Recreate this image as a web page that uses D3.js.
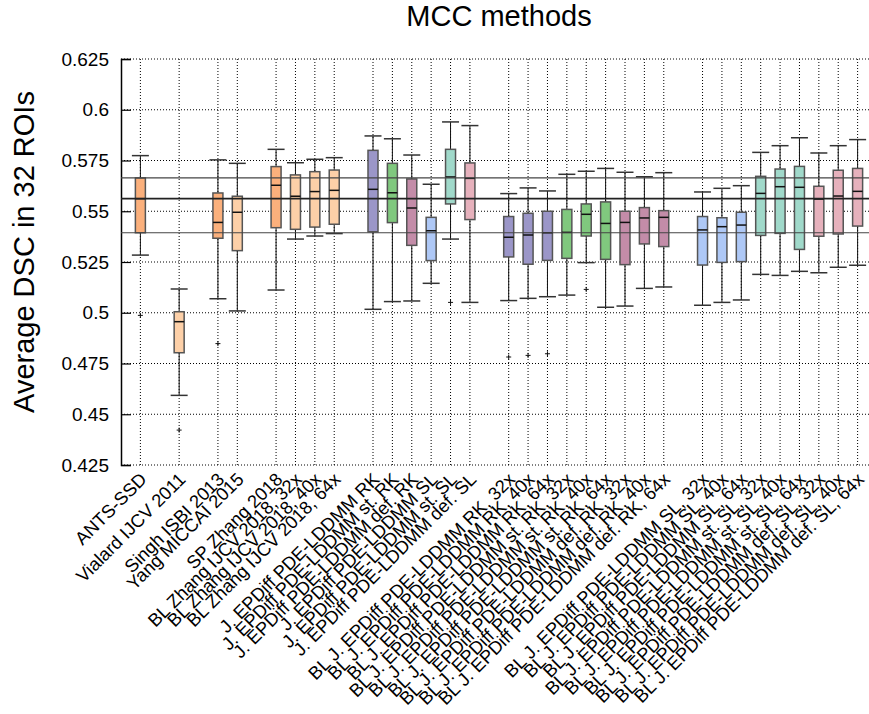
<!doctype html>
<html>
  <head>
    <script src="https://cdnjs.cloudflare.com/ajax/libs/d3/7.8.5/d3.min.js"></script>
    <style>
      body { margin: 0; background: #fff; }
      svg { font-family: "Liberation Sans", Arial, Helvetica, sans-serif; }
      .grid line { stroke: #000; stroke-width: 1; stroke-dasharray: 1 2; }
      .box rect { stroke: #555; stroke-width: 1.5; }
      .whisker { stroke: #111; stroke-width: 1; }
      .cap { stroke: #333; stroke-width: 1.5; }
      .median { stroke: #111; stroke-width: 1.5; }
      .outlier { stroke: #111; stroke-width: 1; }
      .ref { stroke: #444; stroke-width: 1.2; }
      .ref.mid { stroke: #222; stroke-width: 1.6; }
    </style>
  </head>
  <body>
    <svg width="869" height="714"></svg>
    <script>
      // categories ("" = empty slot between groups)
      var labels = [
        "ANTS-SSD", "", "Vialard IJCV 2011", "", "Singh ISBI 2013", "Yang MICCAI 2015", "",
        "SP Zhang 2018", "BL Zhang IJCV 2018, 32x", "BL Zhang IJCV 2018, 40x", "BL Zhang IJCV 2018, 64x", "",
        "J. EPDiff PDE-LDDMM RK", "J. EPDiff PDE-LDDMM st. RK", "J. EPDiff PDE-LDDMM def. RK",
        "J. EPDiff PDE-LDDMM SL", "J. EPDiff PDE-LDDMM st. SL", "J. EPDiff PDE-LDDMM def. SL", "",
        "BL J. EPDiff PDE-LDDMM RK, 32x", "BL J. EPDiff PDE-LDDMM RK, 40x", "BL J. EPDiff PDE-LDDMM RK, 64x",
        "BL J. EPDiff PDE-LDDMM st. RK, 32x", "BL J. EPDiff PDE-LDDMM st. RK, 40x", "BL J. EPDiff PDE-LDDMM st. RK, 64x",
        "BL J. EPDiff PDE-LDDMM def. RK, 32x", "BL J. EPDiff PDE-LDDMM def. RK, 40x", "BL J. EPDiff PDE-LDDMM def. RK, 64x", "",
        "BL J. EPDiff PDE-LDDMM SL, 32x", "BL J. EPDiff PDE-LDDMM SL, 40x", "BL J. EPDiff PDE-LDDMM SL, 64x",
        "BL J. EPDiff PDE-LDDMM st. SL, 32x", "BL J. EPDiff PDE-LDDMM st. SL, 40x", "BL J. EPDiff PDE-LDDMM st. SL, 64x",
        "BL J. EPDiff PDE-LDDMM def. SL, 32x", "BL J. EPDiff PDE-LDDMM def. SL, 40x", "BL J. EPDiff PDE-LDDMM def. SL, 64x"
      ];
      var groups = [
        "orange", null, "peach", null, "orange", "peach", null,
        "orange", "peach", "peach", "peach", null,
        "purple", "green", "mauve", "blue", "teal", "pink", null,
        "purple", "purple", "purple", "green", "green", "green", "mauve", "mauve", "mauve", null,
        "blue", "blue", "blue", "teal", "teal", "teal", "pink", "pink", "pink"
      ];
      var whiskerLow = [
        0.5284, null, 0.4593, null, 0.5069, 0.5009, null,
        0.5112, 0.5363, 0.5378, 0.5390, null,
        0.5017, 0.5055, 0.5058, 0.5145, 0.5363, 0.5051, null,
        0.5060, 0.5071, 0.5079, 0.5087, 0.5247, 0.5027, 0.5033, 0.5120, 0.5127, null,
        0.5037, 0.5051, 0.5063, 0.5189, 0.5184, 0.5204, 0.5197, 0.5224, 0.5234
      ];
      var q1 = [
        0.5394, null, 0.4803, null, 0.5367, 0.5306, null,
        0.5419, 0.5411, 0.5422, 0.5436, null,
        0.5399, 0.5444, 0.5332, 0.5257, 0.5536, 0.5459, null,
        0.5275, 0.5239, 0.5258, 0.5268, 0.5378, 0.5263, 0.5237, 0.5339, 0.5326, null,
        0.5235, 0.5248, 0.5252, 0.5381, 0.5391, 0.5312, 0.5377, 0.5388, 0.5427
      ];
      var median = [
        0.5562, null, 0.4956, null, 0.5445, 0.5495, null,
        0.5628, 0.5574, 0.5597, 0.5603, null,
        0.5608, 0.5591, 0.5516, 0.5404, 0.5669, 0.5662, null,
        0.5372, 0.5383, 0.5394, 0.5396, 0.5485, 0.5440, 0.5445, 0.5467, 0.5470, null,
        0.5408, 0.5424, 0.5432, 0.5588, 0.5621, 0.5618, 0.5560, 0.5575, 0.5598
      ];
      var q3 = [
        0.5664, null, 0.5005, null, 0.5590, 0.5574, null,
        0.5720, 0.5679, 0.5695, 0.5703, null,
        0.5800, 0.5736, 0.5659, 0.5470, 0.5805, 0.5738, null,
        0.5474, 0.5490, 0.5500, 0.5509, 0.5536, 0.5546, 0.5500, 0.5518, 0.5503, null,
        0.5474, 0.5468, 0.5495, 0.5672, 0.5708, 0.5721, 0.5623, 0.5702, 0.5711
      ];
      var whiskerHigh = [
        0.5774, null, 0.5117, null, 0.5753, 0.5736, null,
        0.5805, 0.5739, 0.5756, 0.5764, null,
        0.5871, 0.5857, 0.5777, 0.5633, 0.5940, 0.5922, null,
        0.5587, 0.5615, 0.5600, 0.5682, 0.5697, 0.5711, 0.5692, 0.5670, 0.5690, null,
        0.5595, 0.5613, 0.5626, 0.5790, 0.5823, 0.5862, 0.5787, 0.5823, 0.5853
      ];
      var outliers = [
        [0.4987], [], [0.4422], [], [0.4848], [], [],
        [], [], [], [], [],
        [], [], [], [], [0.5051], [], [],
        [0.4782], [0.4790], [0.4798], [], [0.5115], [], [], [], [], [],
        [], [], [], [], [], [], [], [], []
      ];
      var yTicks = [0.425, 0.45, 0.475, 0.5, 0.525, 0.55, 0.575, 0.6, 0.625];

      var palette = {
        orange: "#fbb07c", peach: "#fdd0a8", purple: "#9b96c8", green: "#80c87e",
        mauve: "#c38ca8", blue: "#aec8f6", teal: "#a0d9ca", pink: "#e6b1bc"
      };

      var mLeft = 121, mRight = 877, mTop = 59, mBottom = 465;
      var svg = d3.select("svg");

      var x = d3.scaleLinear().domain([-1, labels.length]).range([mLeft, mRight]);
      var y = d3.scaleLinear().domain([0.425, 0.625]).range([mBottom, mTop]);

      var idx = d3.range(labels.length);
      var filled = idx.filter(i => labels[i] !== "");

      // grid
      var grid = svg.append("g").attr("class", "grid");
      grid.selectAll("line.h").data(yTicks).enter().append("line")
        .attr("x1", mLeft).attr("x2", mRight)
        .attr("y1", d => y(d)).attr("y2", d => y(d));
      grid.selectAll("line.v").data(filled).enter().append("line")
        .attr("x1", d => x(d)).attr("x2", d => x(d))
        .attr("y1", mTop).attr("y2", mBottom);

      // y axis
      var yAxis = d3.axisLeft(y).tickValues(yTicks).tickSize(-10).tickPadding(12)
        .tickFormat(d => String(+d.toFixed(3)));
      var ya = svg.append("g").attr("transform", "translate(" + mLeft + ",0)").call(yAxis);
      ya.select(".domain").attr("stroke", "#000").attr("stroke-width", 1.5);
      ya.selectAll(".tick line").attr("stroke", "#000").attr("stroke-width", 1.2);
      ya.selectAll(".tick text").attr("font-size", 19).attr("fill", "#000")
        .attr("font-family", "Liberation Sans, Arial, sans-serif");

      var bw = 10, cw = 17;

      var boxes = svg.append("g").selectAll("g").data(filled).enter().append("g").attr("class", "box");
      boxes.append("line").attr("class", "whisker")
        .attr("x1", i => x(i)).attr("x2", i => x(i))
        .attr("y1", i => y(whiskerLow[i])).attr("y2", i => y(whiskerHigh[i]));
      boxes.append("line").attr("class", "cap")
        .attr("x1", i => x(i) - cw / 2).attr("x2", i => x(i) + cw / 2)
        .attr("y1", i => y(whiskerLow[i])).attr("y2", i => y(whiskerLow[i]));
      boxes.append("line").attr("class", "cap")
        .attr("x1", i => x(i) - cw / 2).attr("x2", i => x(i) + cw / 2)
        .attr("y1", i => y(whiskerHigh[i])).attr("y2", i => y(whiskerHigh[i]));
      boxes.append("rect")
        .attr("x", i => x(i) - bw / 2).attr("width", bw)
        .attr("y", i => y(q3[i])).attr("height", i => y(q1[i]) - y(q3[i]))
        .attr("fill", i => palette[groups[i]]);
      boxes.append("line").attr("class", "median")
        .attr("x1", i => x(i) - bw / 2).attr("x2", i => x(i) + bw / 2)
        .attr("y1", i => y(median[i])).attr("y2", i => y(median[i]));

      // outliers as small plus signs
      var pts = [];
      filled.forEach(i => outliers[i].forEach(v => pts.push({ i: i, v: v })));
      var ol = svg.append("g").selectAll("g").data(pts).enter().append("g")
        .attr("transform", d => "translate(" + x(d.i) + "," + y(d.v) + ")");
      ol.append("line").attr("class", "outlier").attr("x1", -2.5).attr("x2", 2.5);
      ol.append("line").attr("class", "outlier").attr("y1", -2.5).attr("y2", 2.5);

      // reference lines from ANTS-SSD quartiles
      var refs = [q3[0], median[0], q1[0]];
      svg.append("g").selectAll("line").data(refs).enter().append("line")
        .attr("class", (d, k) => k === 1 ? "ref mid" : "ref")
        .attr("x1", mLeft).attr("x2", mRight)
        .attr("y1", d => y(d)).attr("y2", d => y(d));

      // x labels
      svg.append("g").selectAll("text").data(filled).enter().append("text")
        .attr("transform", i => "translate(" + (x(i) + 3) + "," + 476 + ") rotate(-45)")
        .attr("text-anchor", "end")
        .attr("dy", "0.35em")
        .attr("font-size", 18.3)
        .text(i => labels[i]);

      svg.append("text")
        .attr("x", (mLeft + mRight) / 2).attr("y", 26)
        .attr("text-anchor", "middle").attr("font-size", 29)
        .text("MCC methods");

      svg.append("text")
        .attr("transform", "translate(34,252) rotate(-90)")
        .attr("text-anchor", "middle").attr("font-size", 29)
        .text("Average DSC in 32 ROIs");
    </script>
  </body>
</html>
